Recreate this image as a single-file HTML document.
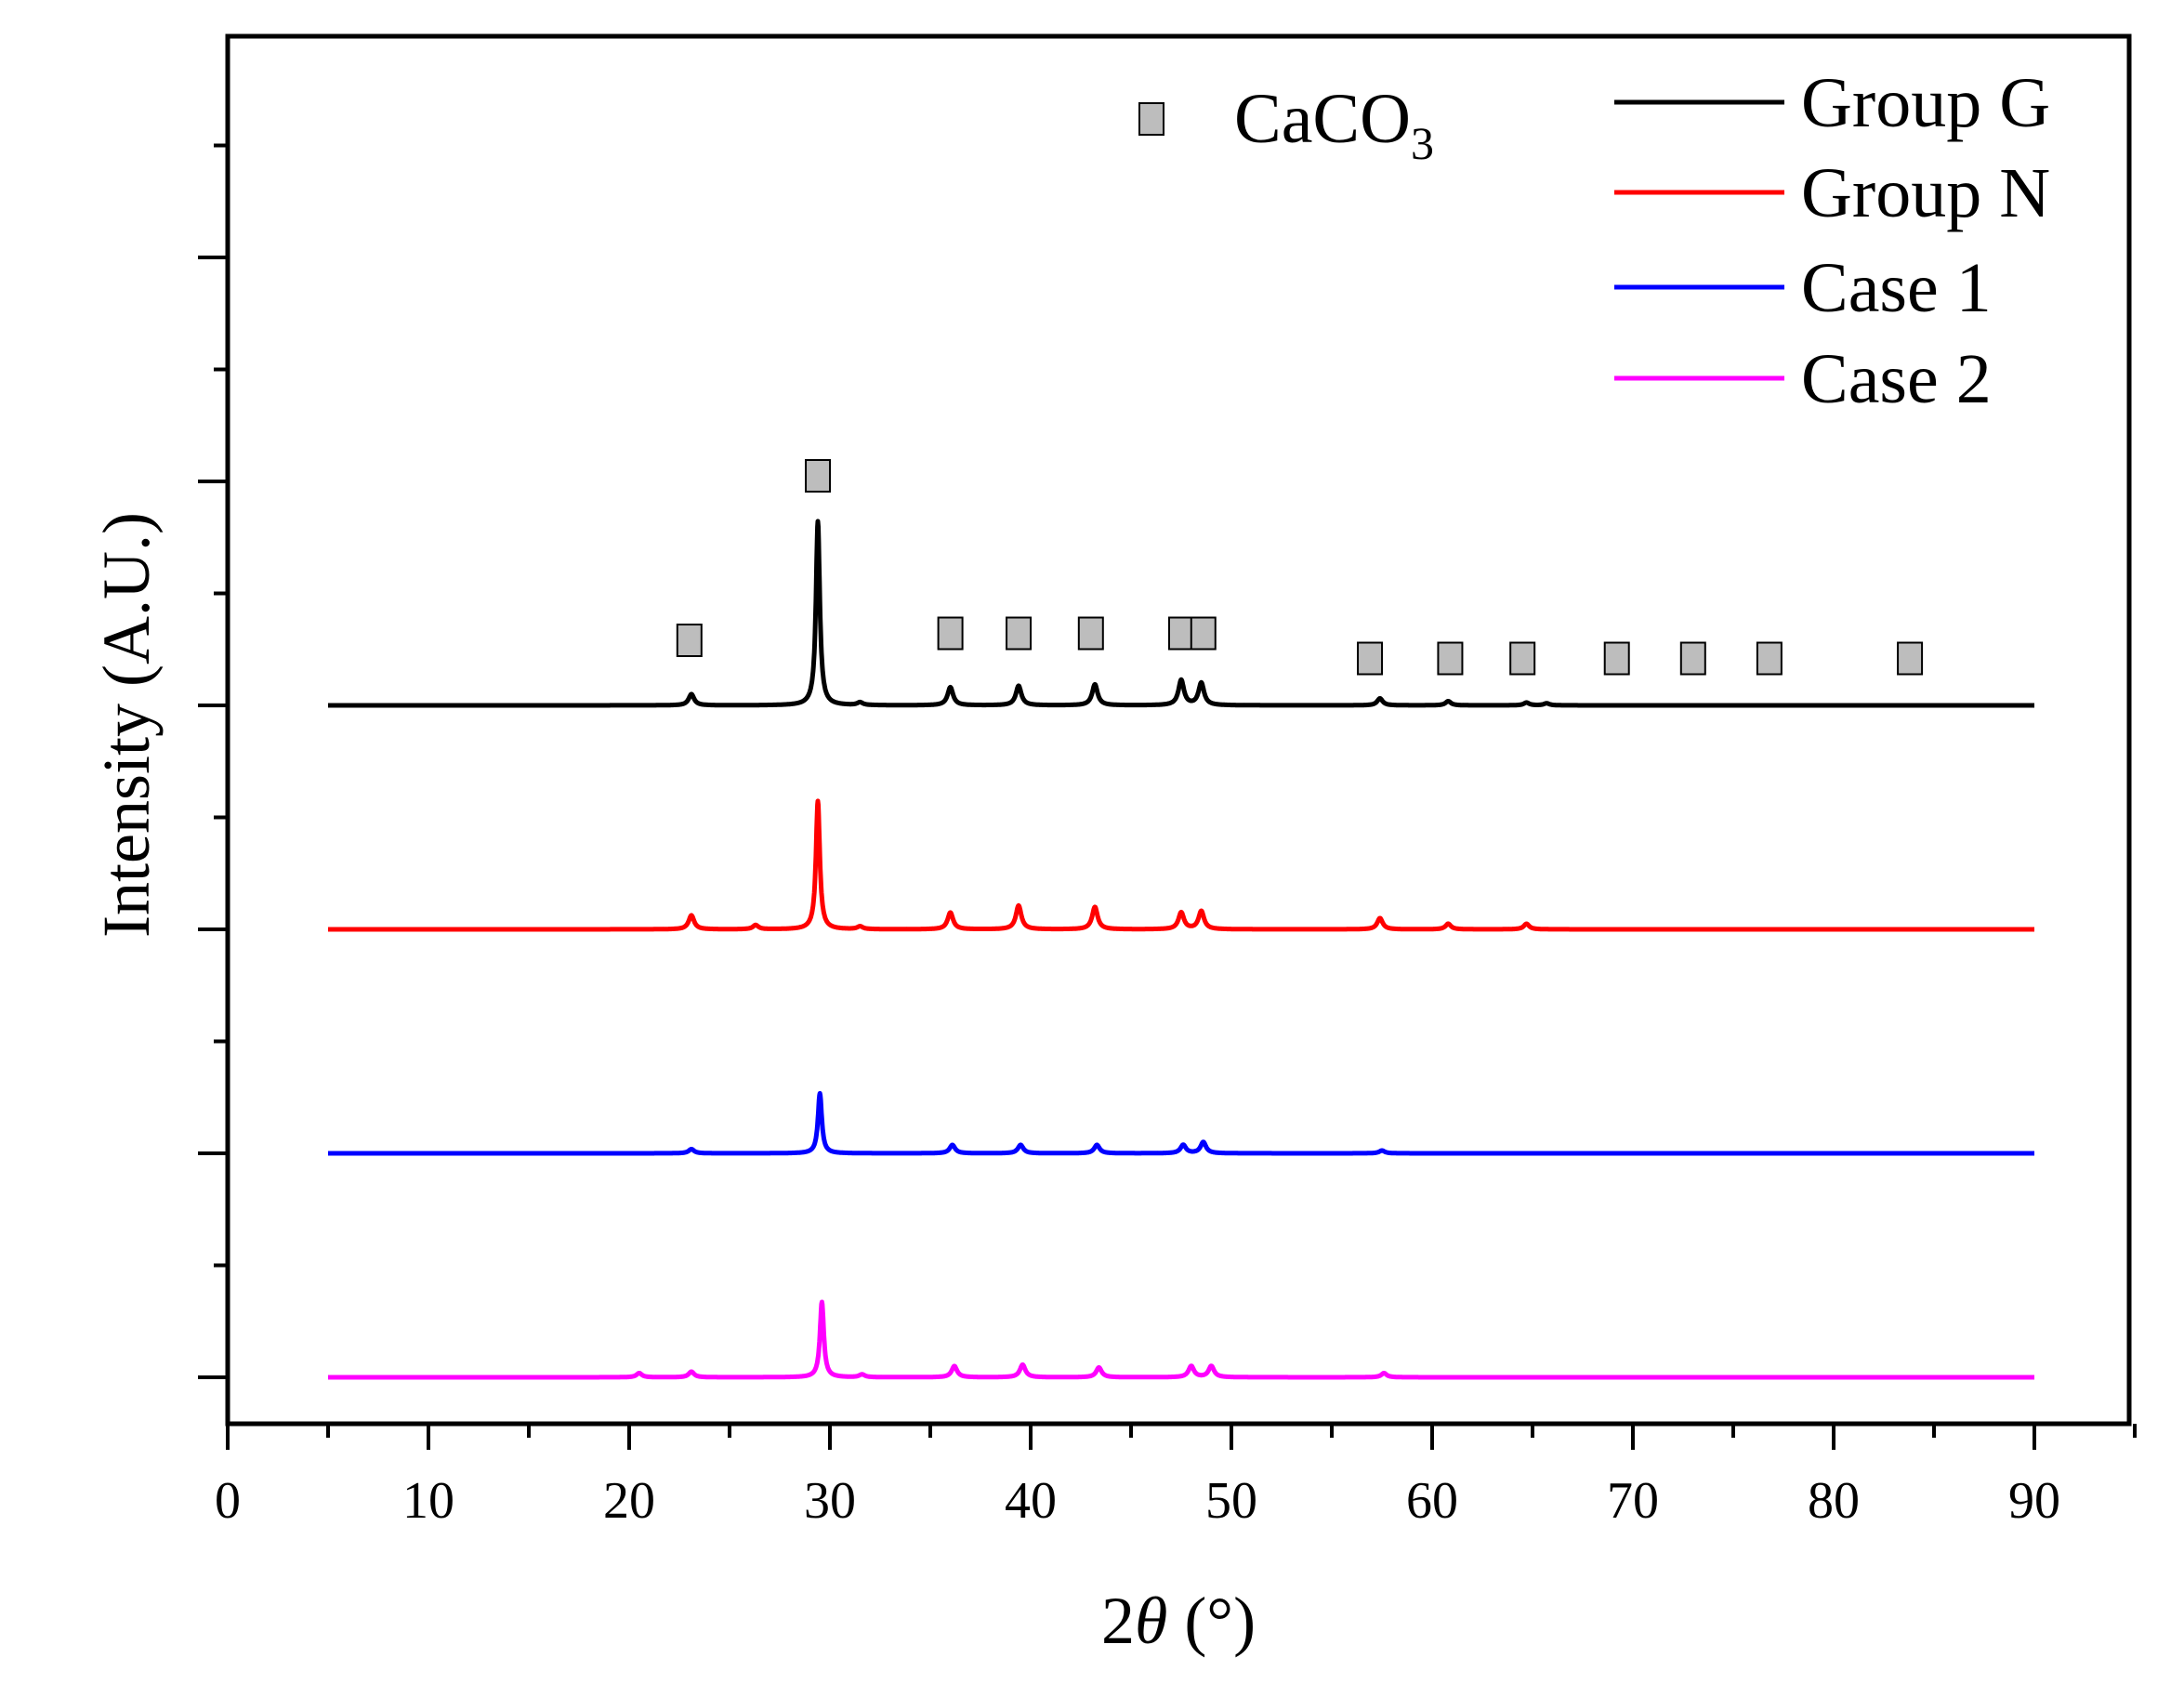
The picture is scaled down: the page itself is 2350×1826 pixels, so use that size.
<!DOCTYPE html>
<html><head><meta charset="utf-8"><style>
html,body{margin:0;padding:0;background:#fff;}
svg{display:block;font-family:"Liberation Serif",serif;}
</style></head><body>
<svg id="chart" width="2350" height="1826" viewBox="0 0 2350 1826" xmlns="http://www.w3.org/2000/svg">
<g id="plot"></g>
<g id="axes"></g>
<g id="legend"></g>
</svg>
<script>
const seriesNames = ["Group G","Group N","Case 1","Case 2"];
const seriesColors = ["#000000","#ff0000","#0000ff","#ff00ff"];
const baselines = [0, 0, 0, 0];
const offsets = [3, 2, 1, 0];
const peaksG_pos = [23.1, 29.4, 31.5, 36.0, 39.4, 43.2, 47.5, 48.5, 57.4, 60.8, 64.7, 65.7];
const peaksG_h   = [8, 132, 2, 13, 14, 15, 18, 16, 5, 3, 2, 1.5];
const peaksN_pos = [23.1, 26.3, 29.4, 31.5, 36.0, 39.4, 43.2, 47.5, 48.5, 57.4, 60.8, 64.7];
const peaksN_h   = [10, 3, 92, 2, 12, 17, 16, 12, 13, 8, 4, 4];
const peaksC1_pos = [23.1, 29.5, 36.1, 39.5, 43.3, 47.6, 48.6, 57.5];
const peaksC1_h   = [3, 43, 6, 6, 6, 6, 8, 2];
const peaksC2_pos = [20.5, 23.1, 29.6, 31.6, 36.2, 39.6, 43.4, 48.0, 49.0, 57.6];
const peaksC2_h   = [3, 4, 54, 2, 8, 9, 7, 8, 8, 3];
const xTicks = [0,10,20,30,40,50,60,70,80,90];
const markerX = [23.0, 29.4, 36.0, 39.4, 43.0, 47.5, 48.6, 56.9, 60.9, 64.5, 69.2, 73.0, 76.8, 83.8];
const markerOff = [46, 164, 51, 51, 51, 51, 51, 33, 33, 33, 33, 33, 33, 33];

const NS="http://www.w3.org/2000/svg";
const X0=245, PX=21.6;
const xs = v => X0 + v*PX;
const Y0=1482, SP=241;
const ys = (series, h) => Y0 - offsets[series]*SP - h*1.5;
function mk(tag, attrs, parent){const e=document.createElementNS(NS,tag);for(const k in attrs)e.setAttribute(k,attrs[k]);parent.appendChild(e);return e;}
const plot=document.getElementById('plot'), axes=document.getElementById('axes'), legend=document.getElementById('legend');
const allPos=[peaksG_pos,peaksN_pos,peaksC1_pos,peaksC2_pos], allH=[peaksG_h,peaksN_h,peaksC1_h,peaksC2_h];
const names=["series-group-g","series-group-n","series-case-1","series-case-2"];
for(let s=0;s<4;s++){
  let d="";
  for(let t=5;t<=90.0001;t+=0.02){
    let h=baselines[s];
    for(let k=0;k<allPos[s].length;k++){const w=allPos[s][k]>29&&allPos[s][k]<30?0.14:0.2;const u=(t-allPos[s][k])/w;h+=allH[s][k]/(1+u*u*1.5);}
    d+=(d?"L":"M")+xs(t).toFixed(1)+" "+ys(s,h).toFixed(1);
  }
  const p=mk('path',{d:d,fill:'none',stroke:seriesColors[s],'stroke-width':5,'stroke-linejoin':'round'},plot);
  
  
}
for(let i=0;i<markerX.length;i++){
  const baseY = ys(0,0);
  const r=mk('rect',{x:xs(markerX[i])-13,y:baseY-markerOff[i]*1.5-18,width:26,height:34,fill:'#bdbdbd',stroke:'#000','stroke-width':2},plot);
  
  
}
const fr=mk('rect',{x:245,y:39,width:2046,height:1493,fill:'none',stroke:'#000','stroke-width':5},axes);


for(let v=0;v<=95;v+=5){
  const major=v%10===0;
  const t=mk('line',{x1:xs(v),x2:xs(v),y1:1532,y2:1532+(major?28:15),stroke:'#000','stroke-width':4},axes);
  
  
}
xTicks.forEach(v=>{
  const t=mk('text',{x:xs(v),y:1633,'font-size':56,'text-anchor':'middle',fill:'#000'},axes);
  t.textContent=v;
  
  
});
for(let k=0;k<=12;k++){
  const y=Y0-k*SP/2; if(y<39)continue;
  const major=k%2===0;
  const t=mk('line',{x1:245,x2:245-(major?32:15),y1:y,y2:y,stroke:'#000','stroke-width':4},axes);
  
  
}
const xt=mk('text',{x:1268,y:1768,'font-size':72,'text-anchor':'middle',fill:'#000'},axes);
xt.innerHTML='2<tspan font-style="italic">θ</tspan> (°)';


const yt=mk('text',{x:0,y:0,'font-size':72,'text-anchor':'middle',fill:'#000',transform:'translate(160,780) rotate(-90)'},axes);
yt.textContent='Intensity (A.U.)';


const ly=[110,207,309,407];
for(let s=0;s<4;s++){
  const l=mk('line',{x1:1737,x2:1920,y1:ly[s],y2:ly[s],stroke:seriesColors[s],'stroke-width':5},legend);
  
  
  const t=mk('text',{x:1938,y:ly[s]+26,'font-size':76,fill:'#000'},legend);
  t.textContent=seriesNames[s];
  
  
}
const lm=mk('rect',{x:1226,y:111,width:26,height:34,fill:'#bdbdbd',stroke:'#000','stroke-width':2},legend);


const lt=mk('text',{x:1328,y:153,'font-size':76,fill:'#000'},legend);
lt.innerHTML='CaCO<tspan font-size="50" dy="18">3</tspan>';


</script>
</body></html>
